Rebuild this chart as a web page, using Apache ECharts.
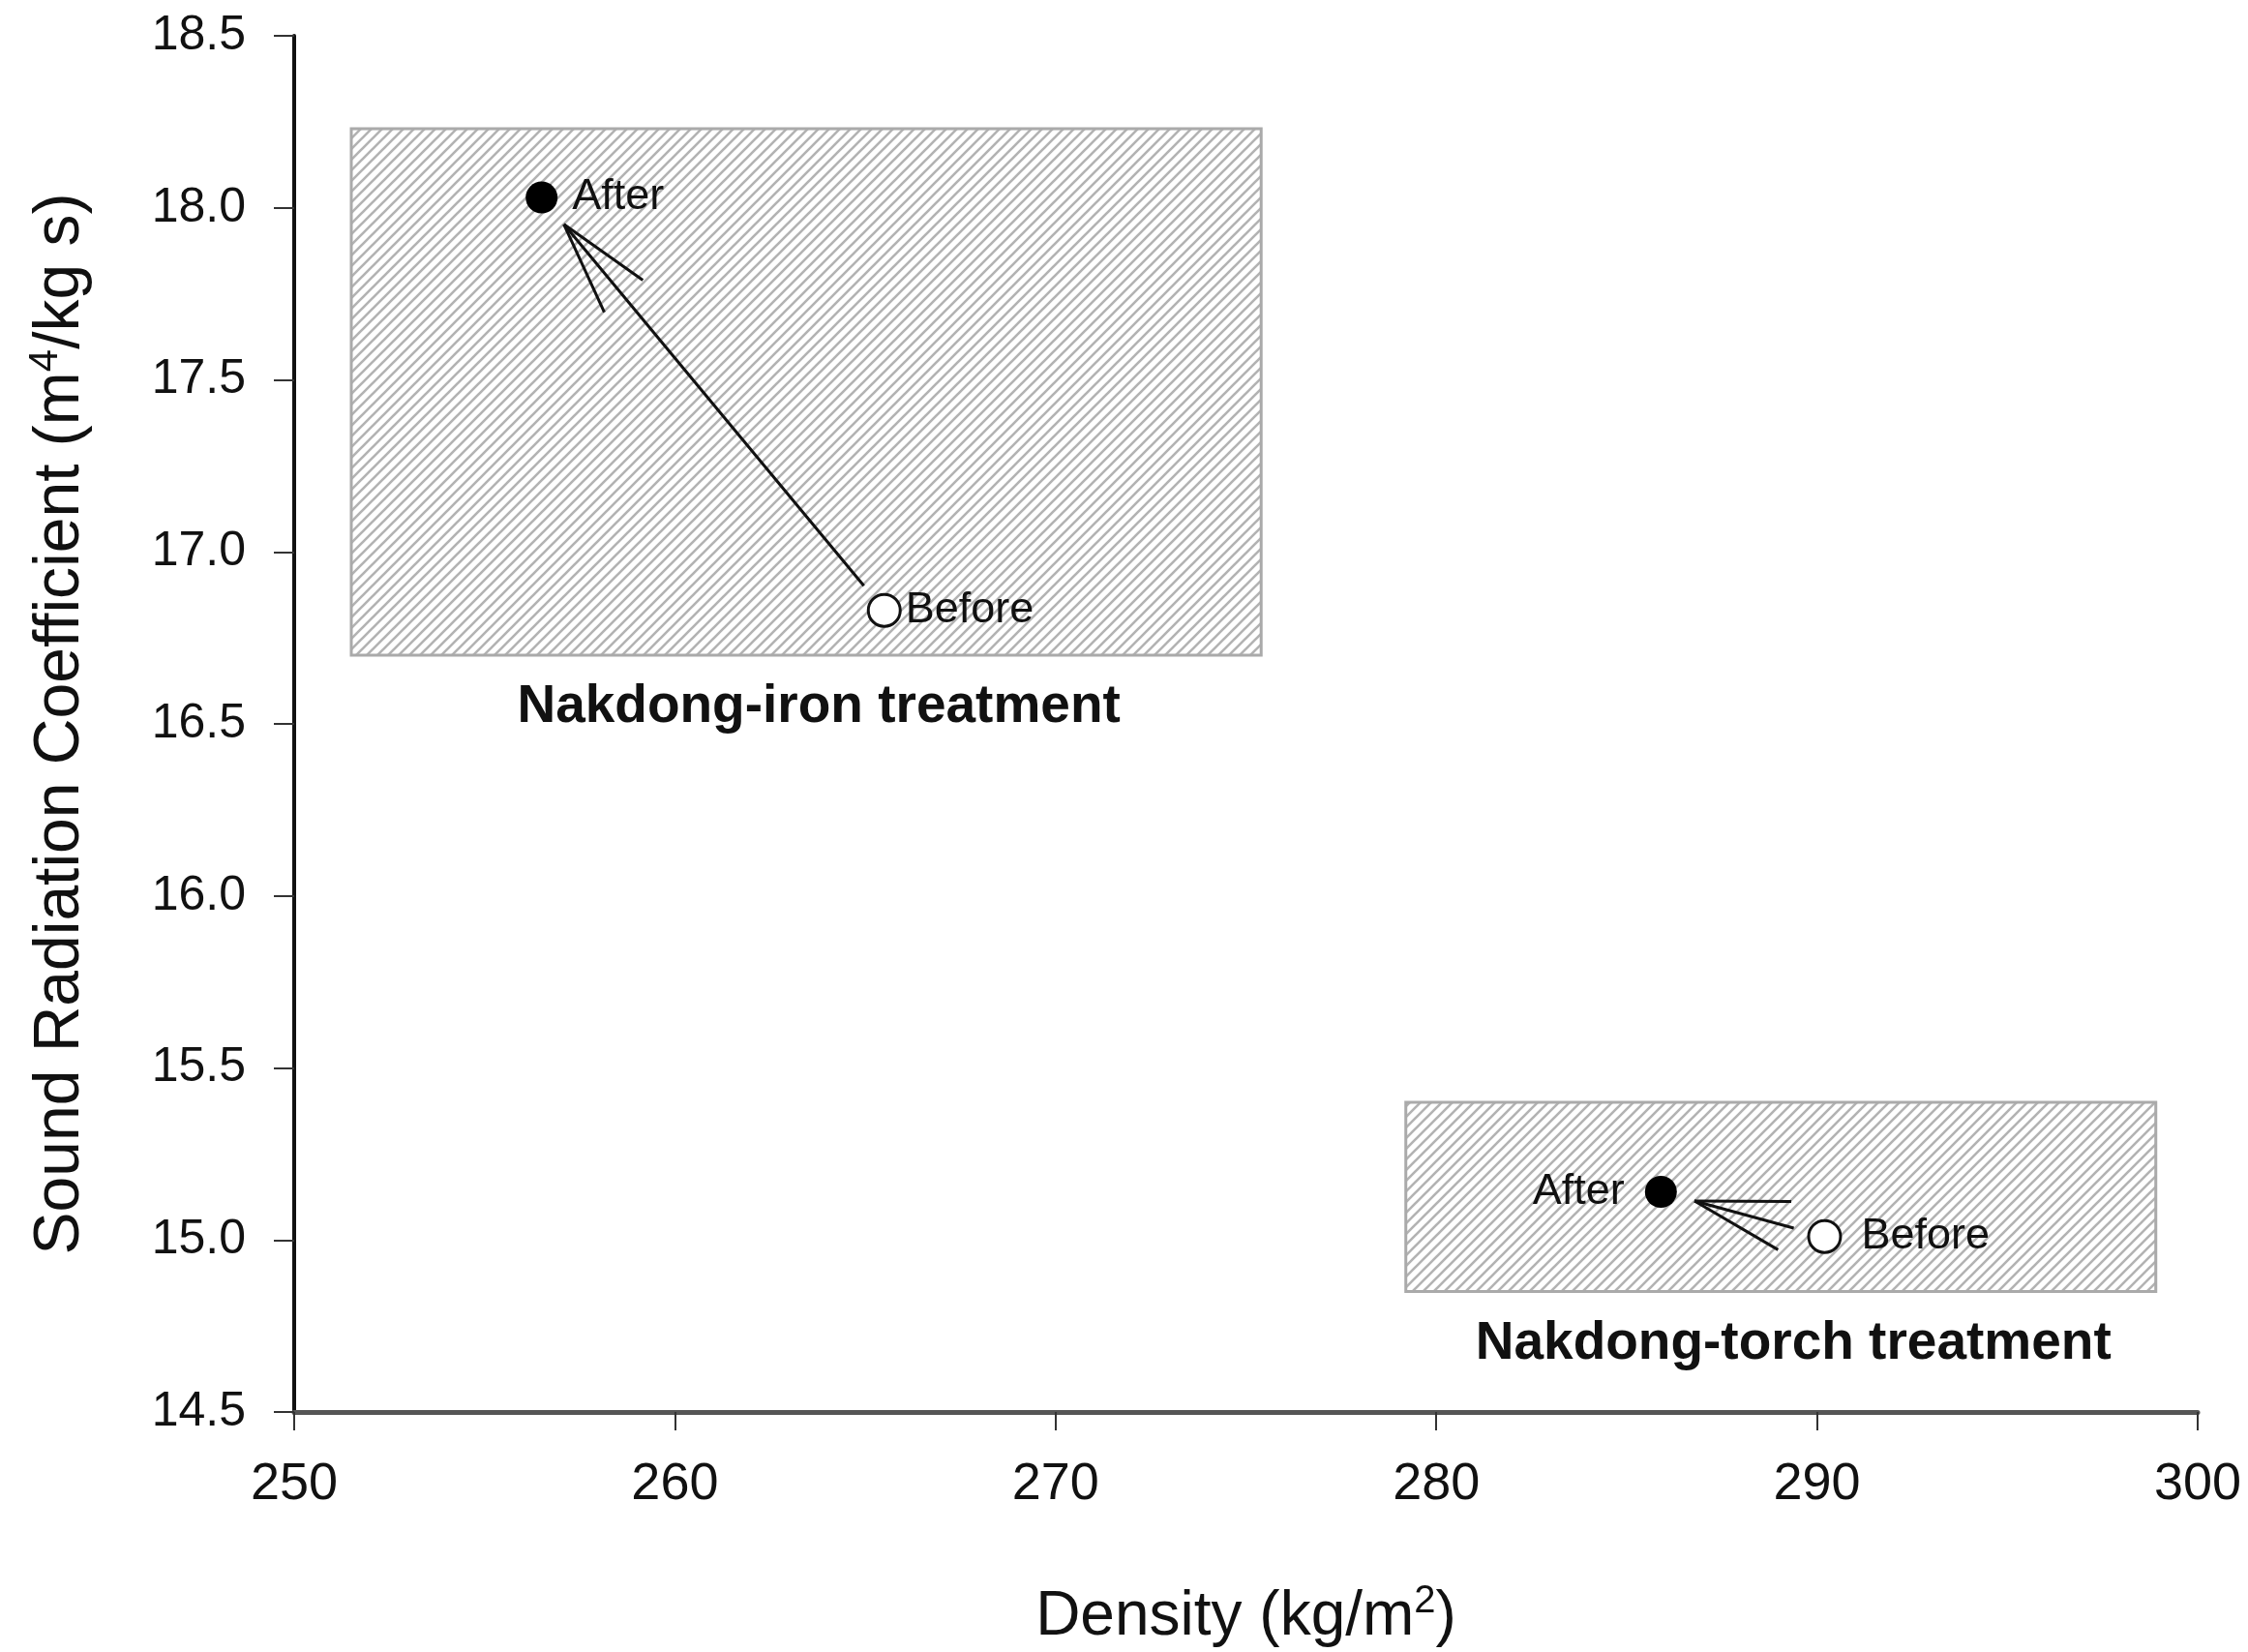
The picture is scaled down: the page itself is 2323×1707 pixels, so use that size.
<!DOCTYPE html>
<html><head><meta charset="utf-8">
<script src="https://cdn.jsdelivr.net/npm/echarts@6/dist/echarts.min.js"></script>
<style>html,body{margin:0;padding:0;background:#fff}#c{width:2323px;height:1707px}</style>
</head><body><div id="c"></div>
<script>
// ---- data ----
const groups = ['Nakdong-iron treatment', 'Nakdong-torch treatment'];
const beforeDensity = [265.5, 290.2];
const beforeSRC = [16.83, 15.01];
const afterDensity = [256.5, 285.9];
const afterSRC = [18.03, 15.14];
const boxDensityMin = [251.5, 279.2];
const boxDensityMax = [275.4, 298.9];
const boxSRCMin = [16.70, 14.85];
const boxSRCMax = [18.23, 15.40];
const xTicks = [250, 260, 270, 280, 290, 300];
const yTicks = [14.5, 15.0, 15.5, 16.0, 16.5, 17.0, 17.5, 18.0, 18.5];

// ---- layout / style ----
const FONT = '"Liberation Sans", Arial, sans-serif';
const beforeLabel = [{position: 'right', distance: 4}, {position: 'right', distance: 20}];
const afterLabel = [{position: 'right', distance: 15}, {position: 'left', distance: 21}];

const P = 11;
const pc = document.createElement('canvas');
pc.width = P; pc.height = P;
const g = pc.getContext('2d');
g.strokeStyle = '#b3b3b3'; g.lineWidth = 2.6;
g.beginPath();
g.moveTo(-3, P + 3); g.lineTo(P + 3, -3);
g.moveTo(-3, 3); g.lineTo(3, -3);
g.moveTo(P - 3, P + 3); g.lineTo(P + 3, P - 3);
g.stroke();

const chart = echarts.init(document.getElementById('c'), null, {renderer: 'canvas'});

const boxData = groups.map((n, i) => [boxDensityMin[i], boxDensityMax[i], boxSRCMin[i], boxSRCMax[i]]);
const arrowData = groups.map((n, i) => [afterDensity[i], afterSRC[i], beforeDensity[i], beforeSRC[i]]);

const option = {
  backgroundColor: '#fff',
  animation: false,
  grid: {left: 304, right: 52, top: 37, bottom: 248, containLabel: false, outerBoundsMode: 'none'},
  xAxis: {
    type: 'value', min: xTicks[0], max: xTicks[xTicks.length - 1], interval: xTicks[1] - xTicks[0],
    name: 'Density (kg/m{sup|2})', nameLocation: 'middle', nameGap: 176,
    nameTextStyle: {fontFamily: FONT, fontSize: 64, color: '#111', lineHeight: 72,
      rich: {sup: {fontFamily: FONT, fontSize: 40, lineHeight: 40, verticalAlign: 'top', color: '#111'}}},
    axisLine: {show: true, onZero: false, lineStyle: {color: '#555', width: 5}},
    axisTick: {show: true, inside: false, length: 19, lineStyle: {color: '#333', width: 2}},
    axisLabel: {fontFamily: FONT, fontSize: 54, color: '#111', margin: 48},
    splitLine: {show: false}
  },
  yAxis: {
    type: 'value', min: yTicks[0], max: yTicks[yTicks.length - 1], interval: yTicks[1] - yTicks[0],
    name: 'Sound Radiation Coefficient (m{sup|4}/kg s)', nameLocation: 'middle', nameGap: 204, nameRotate: 90,
    nameTextStyle: {fontFamily: FONT, fontSize: 66, color: '#111', lineHeight: 74,
      rich: {sup: {fontFamily: FONT, fontSize: 42, lineHeight: 42, verticalAlign: 'top', color: '#111'}}},
    axisLine: {show: true, onZero: false, lineStyle: {color: '#111', width: 4}},
    axisTick: {show: true, inside: false, length: 21, lineStyle: {color: '#333', width: 2}},
    axisLabel: {fontFamily: FONT, fontSize: 50, color: '#111', margin: 50, formatter: v => v.toFixed(1)},
    splitLine: {show: false}
  },
  series: [
    {
      type: 'custom', name: 'boxes', z: 1, silent: true,
      data: boxData,
      encode: {x: [0, 1], y: [2, 3]},
      renderItem: function (params, api) {
        const p0 = api.coord([api.value(0), api.value(3)]);
        const p1 = api.coord([api.value(1), api.value(2)]);
        return {type: 'group', children: [
          {type: 'rect', shape: {x: p0[0], y: p0[1], width: p1[0] - p0[0], height: p1[1] - p0[1]},
           style: {fill: {image: pc, repeat: 'repeat'}, stroke: '#aaaaaa', lineWidth: 3}},
          {type: 'text', style: {text: groups[params.dataIndex], x: (p0[0] + p1[0]) / 2 + 13, y: p1[1] + 54,
            align: 'center', verticalAlign: 'middle', fontFamily: FONT, fontWeight: 'bold', fontSize: 55, fill: '#111'}}
        ]};
      }
    },
    {
      type: 'custom', name: 'arrows', z: 2, silent: true,
      data: arrowData,
      encode: {x: [0, 2], y: [1, 3]},
      renderItem: function (params, api) {
        const a = api.coord([api.value(0), api.value(1)]);
        const b = api.coord([api.value(2), api.value(3)]);
        const dx = a[0] - b[0], dy = a[1] - b[1];
        const L = Math.sqrt(dx * dx + dy * dy);
        const ux = dx / L, uy = dy / L;
        const start = [b[0] + ux * 33, b[1] + uy * 33];
        const tip = [a[0] - ux * 36, a[1] - uy * 36];
        const back = Math.atan2(-uy, -ux);
        const hl = 100, ha = 15 * Math.PI / 180;
        const h1 = [tip[0] + hl * Math.cos(back + ha), tip[1] + hl * Math.sin(back + ha)];
        const h2 = [tip[0] + hl * Math.cos(back - ha), tip[1] + hl * Math.sin(back - ha)];
        const st = {stroke: '#111', lineWidth: 3, fill: null};
        return {type: 'group', children: [
          {type: 'line', shape: {x1: start[0], y1: start[1], x2: tip[0], y2: tip[1]}, style: st},
          {type: 'line', shape: {x1: tip[0], y1: tip[1], x2: h1[0], y2: h1[1]}, style: st},
          {type: 'line', shape: {x1: tip[0], y1: tip[1], x2: h2[0], y2: h2[1]}, style: st}
        ]};
      }
    },
    {
      type: 'scatter', name: 'Before', z: 3, symbol: 'circle', symbolSize: 33,
      itemStyle: {color: '#fff', borderColor: '#111', borderWidth: 3, opacity: 1},
      data: groups.map((n, i) => ({value: [beforeDensity[i], beforeSRC[i]],
        label: {show: true, position: beforeLabel[i].position, distance: beforeLabel[i].distance}})),
      label: {formatter: 'Before', fontFamily: FONT, fontSize: 45, color: '#111'}
    },
    {
      type: 'scatter', name: 'After', z: 3, symbol: 'circle', symbolSize: 33,
      itemStyle: {color: '#000', opacity: 1},
      data: groups.map((n, i) => ({value: [afterDensity[i], afterSRC[i]],
        label: {show: true, position: afterLabel[i].position, distance: afterLabel[i].distance}})),
      label: {formatter: 'After', fontFamily: FONT, fontSize: 45, color: '#111'}
    }
  ]
};
chart.setOption(option);
</script>
</body></html>
